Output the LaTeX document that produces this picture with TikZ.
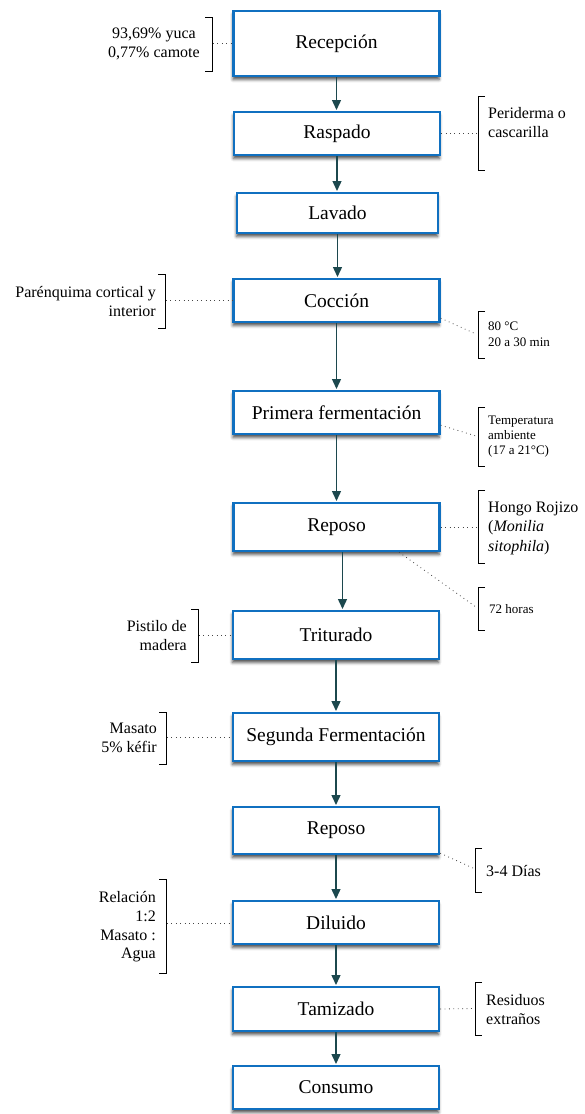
\documentclass[tikz,border=0pt]{standalone}
\usepackage{fontspec}
\setmainfont{Liberation Serif}
\usetikzlibrary{arrows.meta,shadows.blur,calc}
\definecolor{boxblue}{RGB}{16,112,192}
\definecolor{flowteal}{RGB}{28,72,78}
\definecolor{dotgray}{RGB}{70,70,70}
\tikzset{
  proc/.style={draw=boxblue, line width=2.4pt, fill=white, minimum width=206pt,
    inner sep=0pt, font=\fontsize{19.5}{22}\selectfont,
    blur shadow={shadow xshift=-0.5pt, shadow yshift=-3.5pt, shadow blur radius=3pt, shadow opacity=70}},
  flow/.style={flowteal, line width=1.4pt, -{Triangle[length=10pt,width=9pt]}, shorten >=0.8pt},
  note/.style={inner sep=0pt, font=\fontsize{16}{19}\selectfont},
  small/.style={inner sep=0pt, font=\fontsize{13}{16}\selectfont},
  brk/.style={line width=1pt, black},
  lead/.style={dotgray, line width=0.8pt, dash pattern=on 0.8pt off 3.6pt},
}
\begin{document}
\begin{tikzpicture}[x=1pt,y=-1pt]
\useasboundingbox (0,0) rectangle (585,1114);

% process steps
\node[proc, minimum height=65pt] (rec)  at (336.5,43.5)  {Recepción};
\node[proc, minimum height=43pt] (ras)  at (337,133.5)   {Raspado};
\node[proc, minimum height=40pt, minimum width=201pt] (lav) at (337.5,213) {Lavado};
\node[proc, minimum height=43pt] (coc)  at (336.5,300.5) {Cocción};
\node[proc, minimum height=43pt] (fer1) at (336.5,412.5) {Primera fermentación};
\node[proc, minimum height=48pt] (rep1) at (336.5,527)   {Reposo};
\node[proc, minimum height=48pt] (tri)  at (336,635)     {Triturado};
\node[proc, minimum height=48pt] (fer2) at (336,737)     {Segunda Fermentación};
\node[proc, minimum height=47pt] (rep2) at (336,830.5)   {Reposo};
\node[proc, minimum height=43pt] (dil)  at (336,922.5)   {Diluido};
\node[proc, minimum height=44pt] (tam)  at (336,1009)    {Tamizado};
\node[proc, minimum height=43pt] (con)  at (336,1087.5)  {Consumo};

% flow arrows
\draw[flow] (rec.south)  -- (rec.south |- ras.north);
\draw[flow] (ras.south)  -- (ras.south |- lav.north);
\draw[flow] (lav.south)  -- (lav.south |- coc.north);
\draw[flow] (coc.south)  -- (coc.south |- fer1.north);
\draw[flow] (fer1.south) -- (fer1.south |- rep1.north);
\draw[flow] ([xshift=6pt]rep1.south) -- ([xshift=6pt]rep1.south |- tri.north);
\draw[flow] (tri.south)  -- (tri.south |- fer2.north);
\draw[flow] (fer2.south) -- (fer2.south |- rep2.north);
\draw[flow] (rep2.south) -- (rep2.south |- dil.north);
\draw[flow] (dil.south)  -- (dil.south |- tam.north);
\draw[flow] (tam.south)  -- (tam.south |- con.north);

% notes on the left
\node[note, align=center] (m1) at (154,44) {93,69\% yuca\\0,77\% camote};
\draw[brk] (205,17) -- (212,17) -- (212,71) -- (205,71);
\coordinate (m1b) at (213,43.5);
\draw[lead] (m1b) -- (rec.west);

\node[note, anchor=east, align=right] (m2) at (156,302) {Parénquima cortical y\\interior};
\draw[brk] (158,274) -- (165,274) -- (165,328) -- (158,328);
\coordinate (m2b) at (166,300.5);
\draw[lead] (m2b) -- (coc.west);

\node[note, anchor=east, align=right] (m3) at (187,636) {Pistilo de\\madera};
\draw[brk] (191,609) -- (198,609) -- (198,662) -- (191,662);
\coordinate (m3b) at (199,635);
\draw[lead] (m3b) -- (tri.west);

\node[note, anchor=east, align=right] (m4) at (157,738) {Masato\\5\% kéfir};
\draw[brk] (159,712) -- (166,712) -- (166,764) -- (159,764);
\coordinate (m4b) at (167,737);
\draw[lead] (m4b) -- (fer2.west);

\node[note, anchor=east, align=right, font=\fontsize{16}{18.7}\selectfont] (m5) at (156,927) {Relación\\1:2\\Masato :\\Agua};
\draw[brk] (159,879) -- (166,879) -- (166,973) -- (159,973);
\coordinate (m5b) at (167,923);
\draw[lead] (m5b) -- (dil.west |- m5b);

% notes on the right
\node[note, anchor=west, align=left] (n1) at (488,123) {Periderma o\\cascarilla};
\draw[brk] (485,96) -- (478,96) -- (478,170) -- (485,170);
\coordinate (n1b) at (477,133.5);
\draw[lead] (ras.east) -- (n1b);

\node[small, anchor=west, align=left] (n2) at (488,334) {80 °C\\20 a 30 min};
\draw[brk] (485,311) -- (478,311) -- (478,358) -- (485,358);
\coordinate (n2b) at (476,334);
\draw[lead] ([yshift=5pt]coc.south east) -- (n2b);

\node[small, anchor=west, align=left, font=\fontsize{13}{15}\selectfont] (n3) at (488,437) {Temperatura\\ambiente\\(17 a 21°C)};
\draw[brk] (485,407) -- (478,407) -- (478,466) -- (485,466);
\coordinate (n3b) at (476,436);
\draw[lead] ([yshift=10pt]fer1.south east) -- (n3b);

\node[note, anchor=west, align=left, font=\fontsize{16}{19.5}\selectfont] (n4) at (488,528) {Hongo Rojizo\\(\textit{Monilia}\\\textit{sitophila})};
\draw[brk] (485,490) -- (478,490) -- (478,563) -- (485,563);
\coordinate (n4b) at (477,527);
\draw[lead] (rep1.east) -- (n4b);

\node[small, anchor=west] (n5) at (489,609) {72 horas};
\draw[brk] (485,587) -- (478,587) -- (478,630) -- (485,630);
\coordinate (n5b) at (476,607);
\draw[lead] ($(rep1.south)!0.6!(rep1.south east)$) -- (n5b);

\node[note, anchor=west] (n6) at (486,871) {3-4 Días};
\draw[brk] (482,848) -- (475,848) -- (475,892) -- (482,892);
\coordinate (n6b) at (473,868);
\draw[lead] ([yshift=2pt]rep2.south east) -- (n6b);

\node[note, anchor=west, align=left] (n7) at (486,1010) {Residuos\\extraños};
\draw[brk] (482,982) -- (475,982) -- (475,1035) -- (482,1035);
\coordinate (n7b) at (474,1008.5);
\draw[lead] (tam.east) -- (n7b);
\end{tikzpicture}
\end{document}
